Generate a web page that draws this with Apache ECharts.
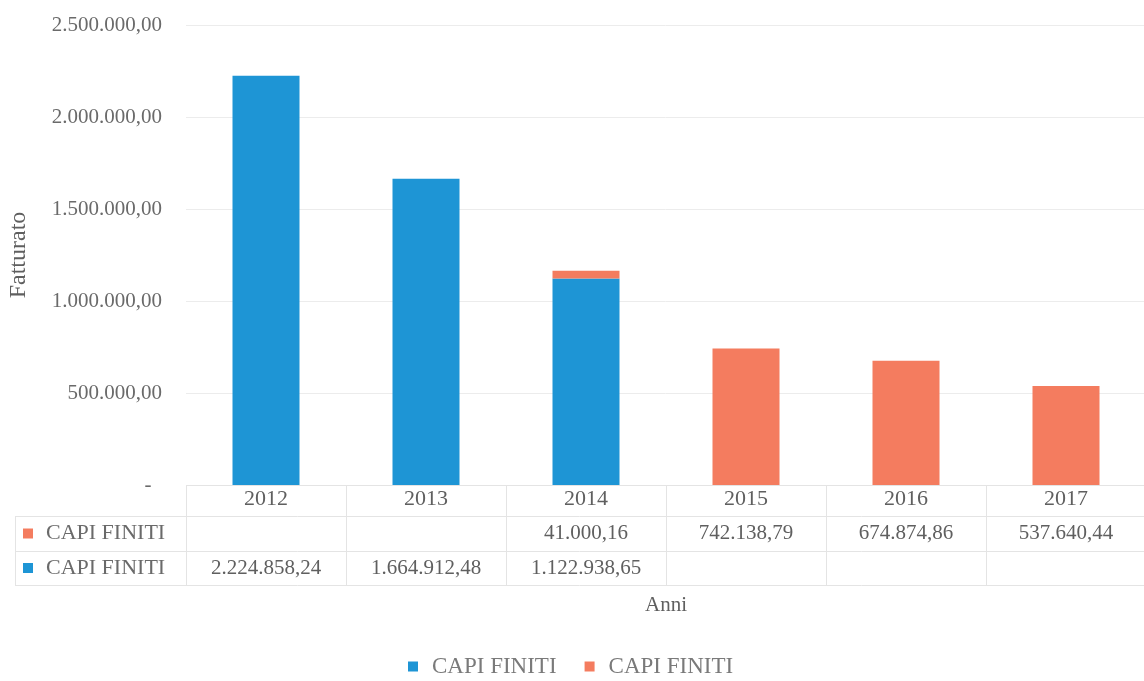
<!DOCTYPE html>
<html>
<head>
<meta charset="utf-8">
<script src="https://cdn.jsdelivr.net/npm/echarts@6/dist/echarts.min.js"></script>
<style>
html,body{margin:0;padding:0;background:#fff;}
#c{width:1144px;height:681px;}
</style>
</head>
<body>
<div id="c"></div>
<script>
const categories = ['2012', '2013', '2014', '2015', '2016', '2017'];
const blueValues = [2224858.24, 1664912.48, 1122938.65, null, null, null];
const salmonValues = [null, null, 41000.16, 742138.79, 674874.86, 537640.44];
const seriesLabels = ['CAPI FINITI', 'CAPI FINITI'];
const yMax = 2500000;
const yInterval = 500000;
const axisTitleY = 'Fatturato';
const axisTitleX = 'Anni';

const BLUE = '#1e95d5';
const SALMON = '#f47c5f';
const FONT = 'Liberation Serif';
const FS = 21;
const TXT = '#5f5f5f';
const LINE = '#e4e4e4';

function fmtIt(v) {
  if (v === null || v === undefined) return '';
  if (v === 0) return '-  ';
  const fixed = Math.abs(v).toFixed(2);
  let [ip, dp] = fixed.split('.');
  ip = ip.replace(/\B(?=(\d{3})+(?!\d))/g, '.');
  return (v < 0 ? '-' : '') + ip + ',' + dp;
}

const chart = echarts.init(document.getElementById('c'), null, {renderer: 'canvas'});
const keys = ['blue', 'salmon'];
const option = {
  animation: false,
  backgroundColor: '#fff',
  grid: {left: 186, top: 25, width: 960, bottom: 196, containLabel: false, outerBoundsMode: 'none'},
  legend: {
    top: 650,
    left: 403,
    icon: 'rect',
    itemWidth: 10,
    itemHeight: 10,
    itemGap: 28,
    data: keys,
    formatter: function (name) { return seriesLabels[keys.indexOf(name)]; },
    textStyle: {fontFamily: FONT, fontSize: 23, color: '#7a7a7a', padding: [0, 0, 0, 9]}
  },
  xAxis: {
    type: 'category',
    data: categories,
    name: axisTitleX,
    nameLocation: 'middle',
    nameGap: 110,
    nameTextStyle: {fontFamily: FONT, fontSize: FS, color: TXT},
    axisLine: {show: false},
    axisTick: {show: false},
    axisLabel: {fontFamily: FONT, fontSize: 22, color: TXT, margin: 3}
  },
  yAxis: {
    type: 'value',
    min: 0,
    max: yMax,
    interval: yInterval,
    name: axisTitleY,
    nameLocation: 'middle',
    nameGap: 155,
    nameTextStyle: {fontFamily: FONT, fontSize: 24, color: TXT},
    axisLine: {show: false},
    axisTick: {show: false},
    splitLine: {lineStyle: {color: '#ececec', width: 1}},
    axisLabel: {fontFamily: FONT, fontSize: FS, color: '#6a6a6a', margin: 24, formatter: fmtIt}
  },
  series: [
    {name: 'blue', type: 'bar', stack: 'tot', data: blueValues, barWidth: 67, itemStyle: {color: BLUE}},
    {name: 'salmon', type: 'bar', stack: 'tot', data: salmonValues, barWidth: 67, itemStyle: {color: SALMON}}
  ]
};
chart.setOption(option);

// data table under the x axis
const centers = categories.map((c, i) => chart.convertToPixel({xAxisIndex: 0}, i));
const step = centers.length > 1 ? centers[1] - centers[0] : 160;
const bounds = centers.map(c => c - step / 2).concat([centers[centers.length - 1] + step / 2]);
const yBase = chart.convertToPixel({yAxisIndex: 0}, 0);
const rowTop = [yBase, yBase + 31, yBase + 66, yBase + 100];
const tableLeft = 15;
const right = 1144;
const g = [];
function hline(x1, x2, y) {
  g.push({type: 'line', shape: {x1: x1, y1: Math.round(y) + 0.5, x2: x2, y2: Math.round(y) + 0.5}, style: {stroke: LINE, lineWidth: 1}, silent: true});
}
function vline(x, y1, y2) {
  g.push({type: 'line', shape: {x1: Math.round(x) + 0.5, y1: y1, x2: Math.round(x) + 0.5, y2: y2}, style: {stroke: LINE, lineWidth: 1}, silent: true});
}
hline(bounds[0], right, rowTop[0]);
hline(tableLeft, right, rowTop[1]);
hline(tableLeft, right, rowTop[2]);
hline(tableLeft, right, rowTop[3]);
bounds.forEach(b => vline(b, rowTop[0], rowTop[3]));
vline(tableLeft, rowTop[1], rowTop[3]);

const rows = [
  {vals: salmonValues, color: SALMON, label: seriesLabels[1]},
  {vals: blueValues, color: BLUE, label: seriesLabels[0]}
];
rows.forEach((r, ri) => {
  const yc = (rowTop[ri + 1] + rowTop[ri + 2]) / 2;
  g.push({type: 'rect', shape: {x: 23, y: yc - 5, width: 10, height: 10}, style: {fill: r.color}, silent: true});
  g.push({type: 'text', x: 46, y: yc, style: {text: r.label, fontFamily: FONT, fontSize: 22, fill: '#6a6a6a', verticalAlign: 'middle', align: 'left'}, silent: true});
  r.vals.forEach((v, i) => {
    if (v === null) return;
    g.push({type: 'text', x: centers[i], y: yc, style: {text: fmtIt(v), fontFamily: FONT, fontSize: FS, fill: TXT, align: 'center', verticalAlign: 'middle'}, silent: true});
  });
});
chart.setOption({graphic: g});
</script>
</body>
</html>
